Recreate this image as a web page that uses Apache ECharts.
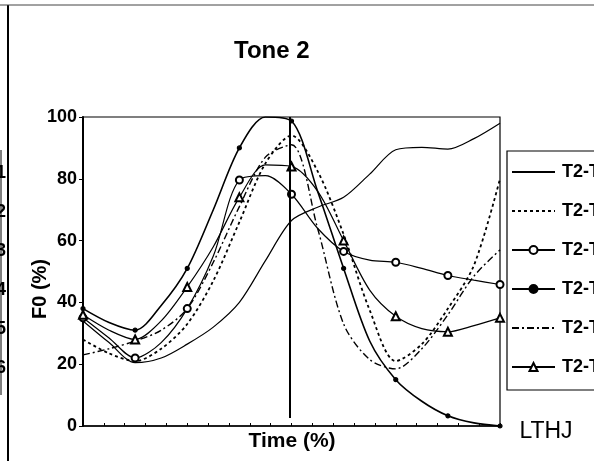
<!DOCTYPE html>
<html>
<head>
<meta charset="utf-8">
<script src="https://cdn.jsdelivr.net/npm/echarts@6/dist/echarts.min.js"></script>
<style>html,body{margin:0;padding:0;background:#fff}#c{width:594px;height:461px}</style>
</head>
<body>
<div id="c"></div>
<script>
// Time (%) sample positions
const timePct = [0, 6.25, 12.5, 18.75, 25, 31.25, 37.5, 43.75, 50, 56.25, 62.5, 68.75, 75, 81.25, 87.5, 93.75, 100];
// F0 (%) per series
const t2t1 = [34, 27, 20.5, 22, 26.5, 32, 40, 53.5, 66.5, 70.8, 74, 81.5, 89.4, 90.2, 89.6, 93, 98];
const t2t2 = [28, 23.5, 21, 25, 33, 47, 66, 85, 94, 82.5, 62, 37.5, 21, 26.5, 38, 52, 80];
const t2t3 = [35, 28.5, 22, 27, 38, 55, 79.6, 81, 75, 64, 56.5, 53.7, 53, 51, 48.7, 47.2, 45.8];
const t2t4 = [38, 33.5, 31, 39, 51, 70, 90, 100, 98.7, 76, 51, 27.5, 15, 8, 3.3, 1, 0];
const t2t5 = [23, 25, 27.5, 31, 38, 53, 71, 87, 91, 64, 33, 21.5, 18.5, 25, 36, 48.5, 57];
const t2t6 = [36, 31, 28, 34, 45, 58, 74, 84.5, 84, 76, 60, 44, 35.5, 31.5, 30.5, 32.5, 35];
const seriesNames = ['T2-T1', 'T2-T2', 'T2-T3', 'T2-T4', 'T2-T5', 'T2-T6'];
const yTicks = [0, 20, 40, 60, 80, 100];
const targetTime = 49.6;
const tableRows = ['1', '2', '3', '4', '5', '6'];

function pts(vals, marker) {
  return timePct.map((t, i) => {
    const o = { value: [t, vals[i]] };
    if (!marker || i % 2 === 1) o.symbol = 'none';
    return o;
  });
}
const blk = '#000';
const chart = echarts.init(document.getElementById('c'), null, { renderer: 'canvas' });
const fam = 'Arial, "Liberation Sans", sans-serif';

const specs = [
  { data: t2t1, line: 'solid', width: 1.2, symbol: 'none', size: 0 },
  { data: t2t2, line: [3, 3], width: 1.8, symbol: 'none', size: 0 },
  { data: t2t3, line: 'solid', width: 1.2, symbol: 'emptyCircle', size: 7 },
  { data: t2t4, line: 'solid', width: 1.6, symbol: 'circle', size: 4 },
  { data: t2t5, line: [7, 3, 2, 3], width: 1.4, symbol: 'none', size: 0 },
  { data: t2t6, line: 'solid', width: 1.2, symbol: 'emptyTriangle', size: 8 }
];

const series = specs.map((s, k) => ({
  name: seriesNames[k],
  type: 'line',
  smooth: 0.3,
  data: pts(s.data, s.symbol !== 'none'),
  symbol: s.symbol,
  symbolSize: s.size,
  showAllSymbol: true,
  lineStyle: { color: blk, width: s.width, type: s.line },
  itemStyle: { color: blk, borderColor: blk, borderWidth: 1.2 },
  emphasis: { disabled: true },
  z: 3
}));
series[0].markLine = {
  silent: true,
  symbol: 'none',
  label: { show: false },
  lineStyle: { color: blk, width: 2, type: 'solid' },
  data: [[{ coord: [targetTime, 100] }, { coord: [targetTime, 2.6] }]]
};

const legendData = seriesNames.map((n, k) => {
  const s = specs[k];
  if (s.symbol === 'none') {
    return { name: n, itemStyle: { color: 'rgba(0,0,0,0)', borderColor: 'rgba(0,0,0,0)', borderWidth: 0 } };
  }
  return { name: n };
});

chart.setOption({
  animation: false,
  backgroundColor: '#fff',
  title: {
    text: 'Tone 2', left: 229, top: 34,
    textStyle: { fontFamily: fam, fontSize: 24, fontWeight: 'bold', color: blk }
  },
  grid: { left: 83, right: 94, top: 117, bottom: 35, show: true, borderColor: blk, borderWidth: 1.2 },
  xAxis: {
    type: 'value', min: 0, max: 100, interval: 5,
    axisLine: { lineStyle: { color: blk, width: 1.5 } },
    axisTick: { show: true, inside: true, length: 3, lineStyle: { color: blk } },
    axisLabel: { show: false },
    splitLine: { show: false }
  },
  yAxis: {
    type: 'value', min: yTicks[0], max: yTicks[yTicks.length - 1], interval: 20,
    axisLine: { show: true, lineStyle: { color: blk, width: 2 } },
    axisTick: { show: true, length: 4, lineStyle: { color: blk } },
    axisLabel: { fontFamily: fam, fontSize: 18, fontWeight: 'bold', color: blk, margin: 6 },
    splitLine: { show: false }
  },
  legend: {
    orient: 'vertical', left: 507, top: 151,
    data: legendData,
    itemWidth: 43, itemHeight: 10, itemGap: 21,
    padding: [12, 60, 14, 4],
    borderColor: blk, borderWidth: 1.2,
    textStyle: { fontFamily: fam, fontSize: 18, fontWeight: 'bold', color: blk, padding: [0, 0, 0, 2] },
    selectedMode: false
  },
  graphic: [
    { type: 'text', x: 40, y: 289, rotation: Math.PI / 2,
      style: { text: 'F0 (%)', fontFamily: fam, fontSize: 20, fontWeight: 'bold', fill: blk, align: 'center', verticalAlign: 'middle' } },
    { type: 'text', x: 292, y: 441,
      style: { text: 'Time (%)', fontFamily: fam, fontSize: 21, fontWeight: 'bold', fill: blk, align: 'center', verticalAlign: 'middle' } },
    { type: 'text', x: 546, y: 432,
      style: { text: 'LTHJ', fontFamily: fam, fontSize: 23, fill: blk, align: 'center', verticalAlign: 'middle' } },
    { type: 'line', shape: { x1: 8, y1: 5, x2: 8, y2: 461 }, style: { stroke: blk, lineWidth: 2 } },
    { type: 'line', shape: { x1: 0, y1: 5, x2: 594, y2: 5 }, style: { stroke: '#444', lineWidth: 1 } },
    { type: 'line', shape: { x1: 1, y1: 150, x2: 1, y2: 395 }, style: { stroke: blk, lineWidth: 1 } }
  ].concat(tableRows.map((r, i) => ({
    type: 'text', x: 6, y: 173 + i * 39,
    style: { text: r, fontFamily: fam, fontSize: 18, fontWeight: 'bold', fill: blk, align: 'right', verticalAlign: 'middle' }
  }))),
  series: series
});
</script>
</body>
</html>
